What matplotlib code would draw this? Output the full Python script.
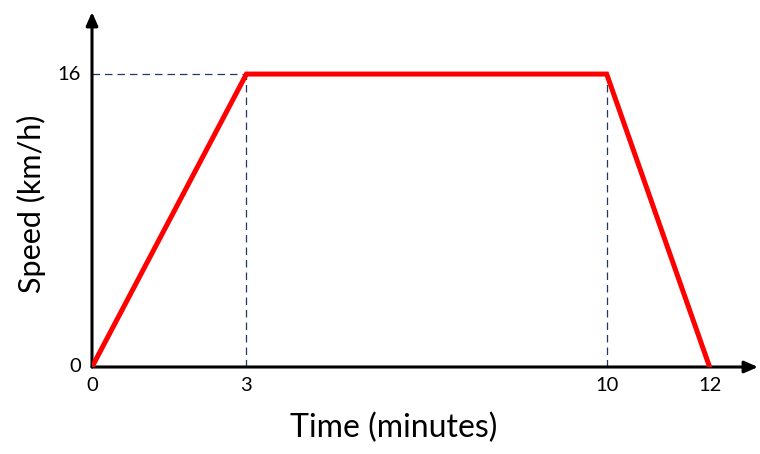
import numpy as np
import matplotlib.pyplot as plt

# 速度-时间图数据
time_pts = [0, 3, 10, 12]
speed_pts = [0, 16, 16, 0]
x_ticks = [0, 3, 10, 12]
y_ticks = [0, 16]

plt.rcParams['font.family'] = ['Lato', 'DejaVu Sans']

fig = plt.figure(figsize=(7.6, 4.54), dpi=100)
ax = fig.add_axes([92 / 760, 87 / 454, 666 / 760, 355 / 454])
ax.set_xlim(0, 12.94)
ax.set_ylim(0, 19.39)
ax.axis('off')

# 虚线辅助线
dash_kw = dict(color='#1f3864', lw=0.9, dashes=(6, 4))
ax.plot([0, time_pts[1]], [speed_pts[1], speed_pts[1]], **dash_kw)
for t, s in zip(time_pts[1:3], speed_pts[1:3]):
    ax.plot([t, t], [0, s], **dash_kw)

# 坐标轴箭头
arrow = dict(arrowstyle='-|>,head_length=0.8,head_width=0.35', color='black', lw=2.2,
             shrinkA=0, shrinkB=0)
ax.annotate('', xy=(1, 0), xytext=(0, 0), xycoords='axes fraction', arrowprops=arrow)
ax.annotate('', xy=(0, 1), xytext=(0, 0), xycoords='axes fraction', arrowprops=arrow)

# 速度曲线
ax.plot(time_pts, speed_pts, color='#ff0000', lw=3.6, solid_joinstyle='miter', zorder=5)

# 刻度标签
for t in x_ticks:
    ax.text(t, -0.55, str(t), ha='center', va='top', fontsize=14.5)
for s in y_ticks:
    ax.text(-0.22, s, str(s), ha='right', va='center', fontsize=14.5)

fig.text(394 / 760, 1 - 428 / 454, 'Time (minutes)', ha='center', va='center', fontsize=23)
fig.text(31 / 760, 1 - 204 / 454, 'Speed (km/h)', ha='center', va='center',
         fontsize=22, rotation=90)

fig.savefig('out.png', dpi=100)
